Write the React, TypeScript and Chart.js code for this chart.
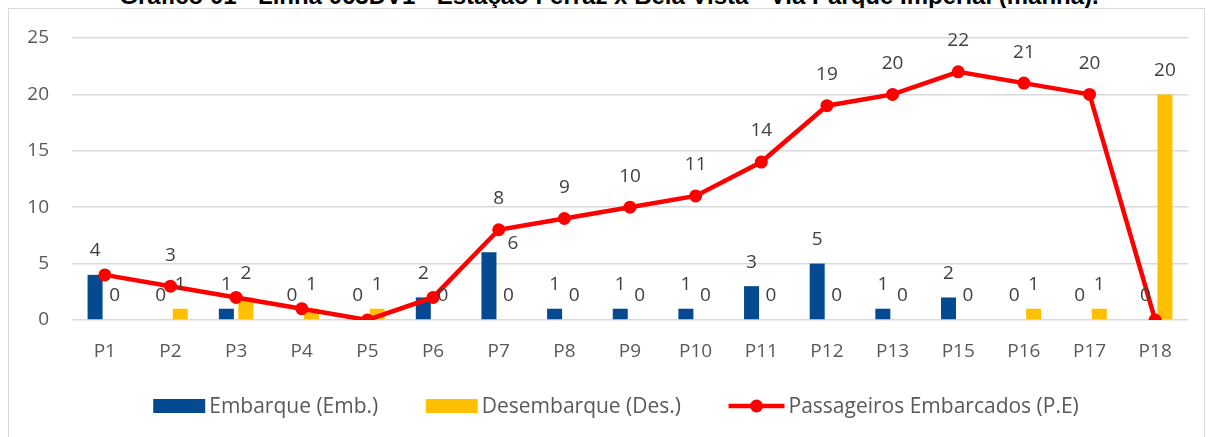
import React, { useEffect, useRef } from "react";
import { Chart, registerables } from "chart.js";

Chart.register(...registerables);

const titleText =
  "Gráfico 01 - Linha 063DV1 - Estação Ferraz x Bela Vista - Via Parque Imperial (manhã).";
const categories = ["P1", "P2", "P3", "P4", "P5", "P6", "P7", "P8", "P9", "P10", "P11", "P12", "P13", "P15", "P16", "P17", "P18"];
const embarque = [4, 0, 1, 0, 0, 2, 6, 1, 1, 1, 3, 5, 1, 2, 0, 0, 0];
const desembarque = [0, 1, 2, 1, 1, 0, 0, 0, 0, 0, 0, 0, 0, 0, 1, 1, 20];
const passageiros = [4, 3, 2, 1, 0, 2, 8, 9, 10, 11, 14, 19, 20, 22, 21, 20, 0];
const yTicks = [0, 5, 10, 15, 20, 25];
const seriesNames = ["Embarque (Emb.)", "Desembarque (Des.)", "Passageiros Embarcados (P.E)"];

const FONT = "'Open Sans', 'DejaVu Sans', sans-serif";
const BLUE = "#054A91";
const YELLOW = "#FFC000";
const RED = "#FF0000";

const valueLabels = {
  id: "valueLabels",
  afterDatasetsDraw(chart: any) {
    const ctx = chart.ctx;
    ctx.save();
    ctx.font = `19px ${FONT}`;
    ctx.fillStyle = "#404040";
    ctx.textAlign = "center";
    ctx.textBaseline = "middle";
    const lineMeta = chart.getDatasetMeta(2);
    [0, 1].forEach((di) => {
      const meta = chart.getDatasetMeta(di);
      meta.data.forEach((el: any, i: number) => {
        let x = el.x;
        let y = el.y - 24;
        const p = lineMeta.data[i];
        // avoid a label sitting on top of a line marker: move it beside the bar
        if (di === 0 && p && Math.abs(p.y - y) < 8 && p.x - x > 0 && p.x - x < 14) {
          x += 24;
          y += 15;
        }
        ctx.fillText(String(chart.data.datasets[di].data[i]), x, y);
      });
    });
    lineMeta.data.forEach((p: any, i: number) => {
      const v = passageiros[i];
      if (v > Math.max(embarque[i], desembarque[i])) {
        ctx.fillText(String(v), p.x, p.y - 31);
      }
    });
    ctx.restore();
  },
};

const customLegend = {
  id: "customLegend",
  afterDraw(chart: any) {
    const ctx = chart.ctx;
    ctx.save();
    ctx.font = `21px ${FONT}`;
    const ds = chart.data.datasets;
    const gapText = 4;
    const gapItem = 47.5;
    const items = ds.map((d: any) => {
      const isLine = d.type === "line";
      const mw = isLine ? 56 : 52;
      return { text: d.label, color: isLine ? d.borderColor : d.backgroundColor, isLine, mw, w: mw + gapText + ctx.measureText(d.label).width };
    });
    const total = items.reduce((a: number, it: any) => a + it.w, 0) + gapItem * (items.length - 1);
    let x = chart.width / 2 + 3 - total / 2;
    const y = chart.chartArea.bottom + 86;
    items.forEach((it: any) => {
      if (it.isLine) {
        ctx.strokeStyle = it.color;
        ctx.lineWidth = 4.5;
        ctx.beginPath();
        ctx.moveTo(x, y);
        ctx.lineTo(x + it.mw, y);
        ctx.stroke();
        ctx.fillStyle = it.color;
        ctx.beginPath();
        ctx.arc(x + it.mw / 2, y, 6.5, 0, Math.PI * 2);
        ctx.fill();
      } else {
        ctx.fillStyle = it.color;
        ctx.fillRect(x, y - 7, it.mw, 14);
      }
      ctx.fillStyle = "#595959";
      ctx.textAlign = "left";
      ctx.textBaseline = "middle";
      ctx.fillText(it.text, x + it.mw + gapText, y + 1);
      x += it.w + gapItem;
    });
    ctx.restore();
  },
};

export default function App() {
  const ref = useRef<HTMLCanvasElement | null>(null);

  useEffect(() => {
    if (!ref.current) return;
    const chart = new Chart(ref.current, {
      type: "bar",
      data: {
        labels: categories,
        datasets: [
          {
            type: "bar",
            label: seriesNames[0],
            data: embarque,
            backgroundColor: BLUE,
            borderWidth: 0,
            order: 1,
            categoryPercentage: 0.594,
            barPercentage: 0.77,
          },
          {
            type: "bar",
            label: seriesNames[1],
            data: desembarque,
            backgroundColor: YELLOW,
            borderWidth: 0,
            order: 1,
            categoryPercentage: 0.594,
            barPercentage: 0.77,
          },
          {
            type: "line",
            label: seriesNames[2],
            data: passageiros,
            borderColor: RED,
            backgroundColor: RED,
            borderWidth: 4.5,
            pointRadius: 6.5,
            pointBackgroundColor: RED,
            pointBorderWidth: 0,
            tension: 0,
            order: 0,
          },
        ] as any,
      },
      options: {
        animation: false,
        responsive: false,
        maintainAspectRatio: false,
        devicePixelRatio: 1,
        layout: { padding: { left: 0, right: 30, top: 30, bottom: 73 } },
        plugins: {
          tooltip: { enabled: false },
          legend: { display: false },
        },
        scales: {
          x: {
            grid: { display: false, drawTicks: false },
            border: { display: false },
            ticks: { color: "#595959", font: { family: FONT, size: 19 }, padding: 20.6 },
            afterFit: (s: any) => {
              s.height = 44;
            },
          },
          y: {
            min: 0,
            max: 25,
            grid: { color: "#D9D9D9", lineWidth: 1.5, drawTicks: false },
            border: { display: false },
            ticks: { color: "#595959", font: { family: FONT, size: 19 }, padding: 23 },
            afterBuildTicks: (s: any) => {
              s.ticks = yTicks.map((v) => ({ value: v }));
            },
            afterFit: (s: any) => {
              s.width = 64;
              s.paddingTop = 0;
              s.paddingBottom = 0;
            },
          },
        },
      } as any,
      plugins: [valueLabels, customLegend],
    });
    return () => chart.destroy();
  }, []);

  return (
    <div>
      <div
        style={{
          position: "absolute",
          left: 0,
          top: -18,
          width: 1218,
          textAlign: "center",
          font: "bold 24px 'Liberation Sans', Arial, sans-serif",
          lineHeight: "28px",
          color: "#000",
          whiteSpace: "nowrap",
        }}
      >
        {titleText}
      </div>
      <div
        style={{
          position: "absolute",
          left: 8,
          top: 8,
          width: 1197,
          height: 429,
          boxSizing: "border-box",
          border: "1px solid #D9D9D9",
          borderBottom: "none",
          background: "#fff",
        }}
      />
      <canvas
        ref={ref}
        width={1210}
        height={429}
        style={{ position: "absolute", left: 8, top: 8, width: 1210, height: 429 }}
      />
    </div>
  );
}
